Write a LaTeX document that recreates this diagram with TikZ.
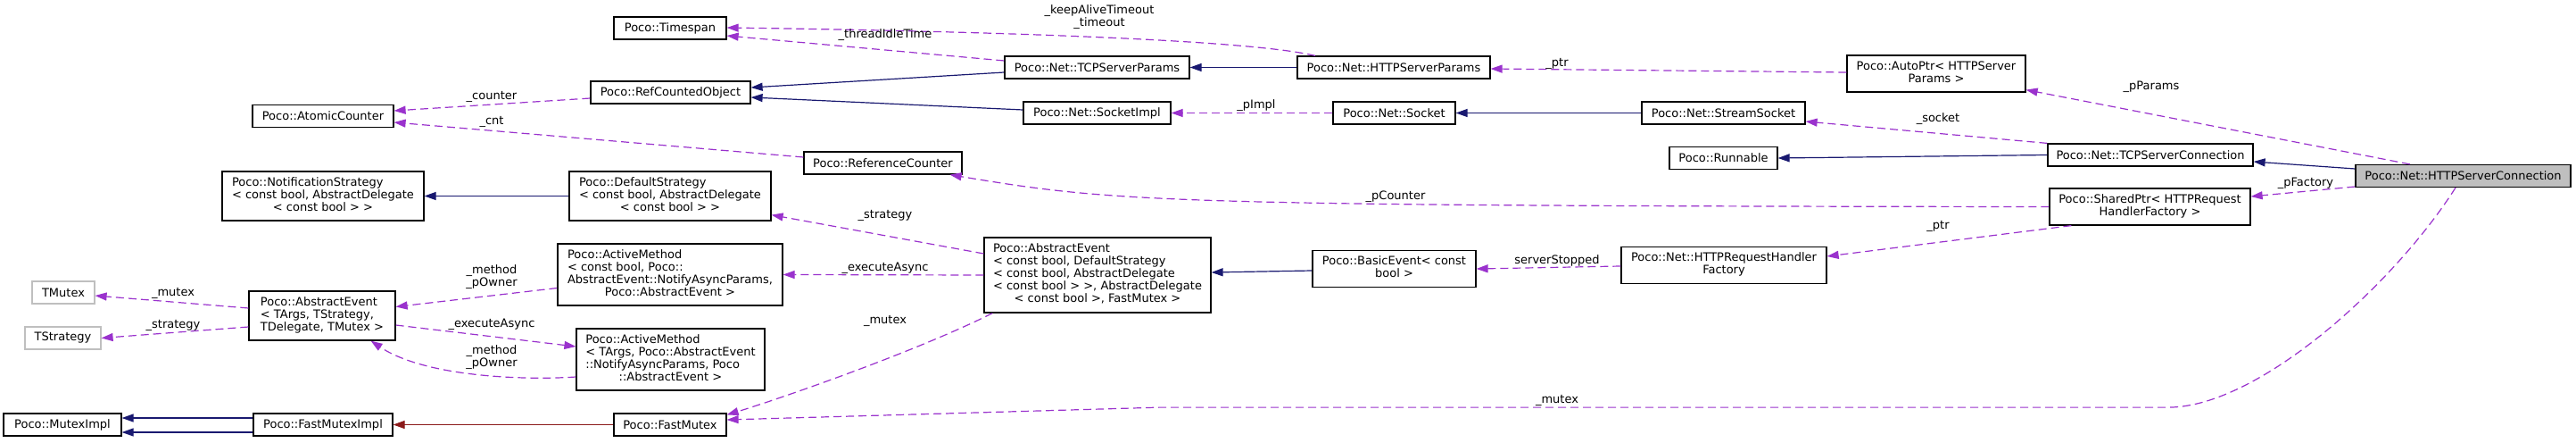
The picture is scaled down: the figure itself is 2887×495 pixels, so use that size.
\documentclass[tikz,border=0pt]{standalone}
\usepackage{fontspec}
\setmainfont{DejaVu Sans}
\usepackage{xcolor}
\usetikzlibrary{arrows.meta}

\definecolor{inhblue}{HTML}{191970}
\definecolor{usepurple}{HTML}{9A32CD}
\definecolor{privred}{HTML}{8B1A1A}
\definecolor{tmplgrey}{HTML}{BFBFBF}

\newcommand{\boxtext}[1]{\begin{tabular}{@{}l@{}}#1\end{tabular}}
\newcommand{\boxctr}[1]{\begin{tabular}{@{}c@{}}#1\end{tabular}}
\newcommand{\lastline}[1]{\multicolumn{1}{@{}c@{}}{#1}}

\begin{document}
\begin{tikzpicture}[
  x=1pt, y=-1pt,
  every node/.style={font=\fontsize{13}{14}\selectfont},
  cls/.style={draw=black, line width=1.2pt, inner sep=0pt, minimum height=25pt, fill=white},
  tmpl/.style={cls, draw=tmplgrey},
  inh/.style={-{Triangle[length=13pt,width=9pt]}, inhblue, line width=1.2pt},
  priv/.style={inh, privred},
  usage/.style={-{Triangle[length=13pt,width=9pt]}, usepurple, line width=1.2pt, dash pattern=on 9pt off 5pt},
  lab/.style={inner sep=0pt}
]
  \useasboundingbox (0,0) rectangle (2887,495);

  % classes
  \node[cls, minimum width=126pt] (timespan) at (751,31.5) {Poco::Timespan};
  \node[cls, minimum width=207pt] (tcpparams) at (1229.5,75.5) {Poco::Net::TCPServerParams};
  \node[cls, minimum width=216pt] (httpparams) at (1562,75.5) {Poco::Net::HTTPServerParams};
  \node[cls, minimum width=200pt, minimum height=41pt] (autoptr) at (2170,82.5)
    {\boxctr{Poco::AutoPtr< HTTPServer\\Params >}};
  \node[cls, minimum width=179pt] (refcnt) at (751.5,103.5) {Poco::RefCountedObject};
  \node[cls, minimum width=158pt] (atomic) at (362,130) {Poco::AtomicCounter};
  \node[cls, minimum width=165pt] (sockimpl) at (1229.5,126.5) {Poco::Net::SocketImpl};
  \node[cls, minimum width=137pt] (socket) at (1562.5,126.5) {Poco::Net::Socket};
  \node[cls, minimum width=183pt] (stream) at (1931.5,126.5) {Poco::Net::StreamSocket};
  \node[cls, minimum width=177pt] (refcounter) at (989.5,182.5) {Poco::ReferenceCounter};
  \node[cls, minimum width=121pt] (runnable) at (1931.5,177) {Poco::Runnable};
  \node[cls, minimum width=230pt] (tcpconn) at (2410,173.5) {Poco::Net::TCPServerConnection};
  \node[cls, minimum width=241pt, fill=tmplgrey] (httpconn) at (2760.5,197) {Poco::Net::HTTPServerConnection};
  \node[cls, minimum width=226pt, minimum height=55pt] (notif) at (362,219.5)
    {\boxtext{Poco::NotificationStrategy\\< const bool, AbstractDelegate\\\lastline{< const bool > >}}};
  \node[cls, minimum width=226pt, minimum height=55pt] (defstrat) at (751,219.5)
    {\boxtext{Poco::DefaultStrategy\\< const bool, AbstractDelegate\\\lastline{< const bool > >}}};
  \node[cls, minimum width=225pt, minimum height=41pt] (sharedptr) at (2409.5,231.5)
    {\boxctr{Poco::SharedPtr< HTTPRequest\\HandlerFactory >}};
  \node[cls, minimum width=254pt, minimum height=84pt] (aevent) at (1230,308)
    {\boxtext{Poco::AbstractEvent\\< const bool, DefaultStrategy\\< const bool, AbstractDelegate\\< const bool > >, AbstractDelegate\\\lastline{< const bool >, FastMutex >}}};
  \node[cls, minimum width=252pt, minimum height=69pt] (amconst) at (751,307.5)
    {\boxtext{Poco::ActiveMethod\\< const bool, Poco::\\AbstractEvent::NotifyAsyncParams,\\\lastline{Poco::AbstractEvent >}}};
  \node[cls, minimum width=183pt, minimum height=41pt] (basicev) at (1562.5,301)
    {\boxctr{Poco::BasicEvent< const\\bool >}};
  \node[cls, minimum width=230pt, minimum height=41pt] (reqfac) at (1932,297)
    {\boxctr{Poco::Net::HTTPRequestHandler\\Factory}};
  \node[tmpl, minimum width=70pt] (tmutex) at (71,327.5) {TMutex};
  \node[tmpl, minimum width=85pt] (tstrat) at (70.5,378.5) {TStrategy};
  \node[cls, minimum width=164pt, minimum height=55pt] (aeventT) at (361,353.5)
    {\boxtext{Poco::AbstractEvent\\< TArgs, TStrategy,\\\lastline{ TDelegate, TMutex >}}};
  \node[cls, minimum width=211pt, minimum height=69pt] (amT) at (751.5,402.5)
    {\boxtext{Poco::ActiveMethod\\< TArgs, Poco::AbstractEvent\\::NotifyAsyncParams, Poco\\\lastline{::AbstractEvent >}}};
  \node[cls, minimum width=132pt] (muteximpl) at (70,475.5) {Poco::MutexImpl};
  \node[cls, minimum width=156pt] (fmimpl) at (362,475.5) {Poco::FastMutexImpl};
  \node[cls, minimum width=126pt] (fastmutex) at (751,475.5) {Poco::FastMutex};

  % inheritance
  \draw[inh] (defstrat.west) -- (notif.east);
  \draw[inh] ([yshift=-5.5pt]tcpparams.west) -- ([yshift=5.5pt]refcnt.east);
  \draw[inh] ([yshift=3.5pt]sockimpl.west) -- ([yshift=-5.5pt]refcnt.east);
  \draw[inh] (httpparams.west) -- (tcpparams.east);
  \draw[inh] (stream.west) -- (socket.east);
  \draw[inh] (tcpconn.west) -- (runnable.east);
  \draw[inh] ([yshift=8pt]httpconn.west) -- ([yshift=-7.5pt]tcpconn.east);
  \draw[inh] ([yshift=-2pt]basicev.west) -- ([yshift=3pt]aevent.east);
  \draw[inh] ([yshift=7.5pt]fmimpl.west) -- ([yshift=7.5pt]muteximpl.east);
  \draw[inh] ([yshift=-8.5pt]fmimpl.west) -- ([yshift=-8.5pt]muteximpl.east);
  \draw[priv] (fastmutex.west) -- (fmimpl.east);

  % members
  \draw[usage] ([yshift=-6.5pt]refcnt.west) -- ([yshift=6pt]atomic.east);
  \draw[usage] ([yshift=6.5pt]refcounter.west) -- ([yshift=-7pt]atomic.east);
  \draw[usage] ([yshift=7.5pt]tcpparams.west) -- ([yshift=-8.5pt]timespan.east);
  \draw[usage] ([xshift=-88pt]httpparams.north) .. controls +(-74,-18) and +(290,4) .. ([yshift=0.5pt]timespan.east);
  \draw[usage] ([yshift=1.5pt]autoptr.west) -- ([yshift=-1.5pt]httpparams.east);
  \draw[usage] (socket.west) -- (sockimpl.east);
  \draw[usage] (tcpconn.north west) -- ([yshift=-9.5pt]stream.east);
  \draw[usage] ([xshift=-59.5pt]httpconn.north) -- ([yshift=3pt]autoptr.south east);
  \draw[usage] ([yshift=-12pt]httpconn.west) -- ([yshift=11.5pt]sharedptr.east);
  \draw[usage] (sharedptr.west) .. controls +(-997,-1) and +(186,31) .. ([xshift=-14pt]refcounter.south east);
  \draw[usage] ([xshift=25pt]sharedptr.south west) -- ([yshift=10pt]reqfac.east);
  \draw[usage] ([yshift=-1pt]reqfac.west) -- (basicev.east);
  \draw[usage] ([yshift=24pt]aevent.west) -- ([yshift=7pt]defstrat.south east);
  \draw[usage] (aevent.west) -- (amconst.east);
  \draw[usage] ([xshift=10pt]aevent.south west) .. controls +(-90,45) and +(50,-15) .. ([yshift=-2pt]fastmutex.north east);
  \draw[usage] ([xshift=-8.5pt]httpconn.south) .. controls +(-70,110) and +(100,0) .. ++(-322,246)
    -- ++(-1130,0) -- ([yshift=5.5pt]fastmutex.east);
  \draw[usage] ([yshift=-15pt]amconst.west) -- ([yshift=10pt]aeventT.east);
  \draw[usage] ([yshift=-10.5pt]aeventT.east) -- ([yshift=14.5pt]amT.west);
  \draw[usage] ([yshift=-19.5pt]amT.west) .. controls +(-60,4) and +(60,40) .. ([xshift=-28pt]aeventT.south east);
  \draw[usage] ([yshift=8.5pt]aeventT.west) -- ([yshift=-3.5pt]tmutex.east);
  \draw[usage] ([yshift=-12.5pt]aeventT.west) -- (tstrat.east);

  % member names
  \node[lab] (lcounter) at (551,108) {\_counter};
  \node[lab] (lcnt) at (551,136) {\_cnt};
  \node[lab] (lidle) at (992,39) {\_threadIdleTime};
  \node[lab] (lkeep) at (1232,19.5) {\boxctr{\_keepAliveTimeout\\\_timeout}};
  \node[lab] (lptrA) at (1745,71) {\_ptr};
  \node[lab] (lpimpl) at (1408,118) {\_pImpl};
  \node[lab] (lsocket) at (2172,133) {\_socket};
  \node[lab] (lparams) at (2411,97) {\_pParams};
  \node[lab] (lfactory) at (2584,205) {\_pFactory};
  \node[lab] (lpcounter) at (1564,220) {\_pCounter};
  \node[lab] (lptrB) at (2172,253) {\_ptr};
  \node[lab] (lstopped) at (1745,292) {serverStopped};
  \node[lab] (lstratA) at (992,241) {\_strategy};
  \node[lab] (lasyncA) at (992,300) {\_executeAsync};
  \node[lab] (lmutexA) at (992,359) {\_mutex};
  \node[lab] (lmutexB) at (1745,448) {\_mutex};
  \node[lab] (lownerA) at (551,311) {\boxctr{\_method\\\_pOwner}};
  \node[lab] (lasyncB) at (551,363) {\_executeAsync};
  \node[lab] (lownerB) at (551,401) {\boxctr{\_method\\\_pOwner}};
  \node[lab] (lmutexC) at (194,328) {\_mutex};
  \node[lab] (lstratB) at (194,364) {\_strategy};
\end{tikzpicture}
\end{document}
